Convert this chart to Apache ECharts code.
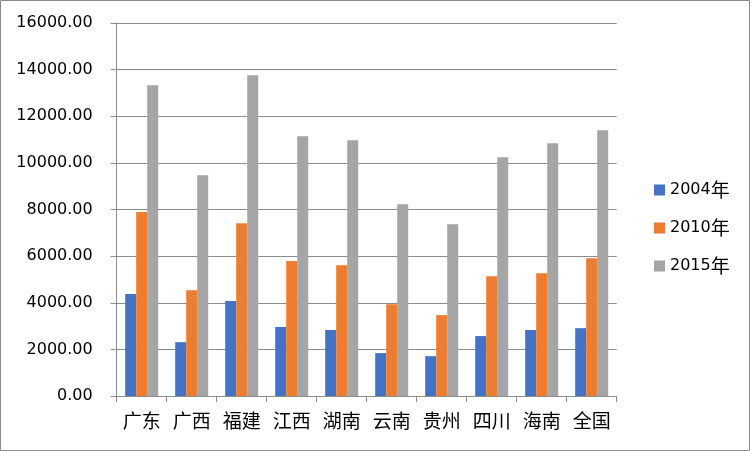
<!DOCTYPE html>
<html>
<head>
<meta charset="utf-8">
<script src="https://cdn.jsdelivr.net/npm/echarts@6/dist/echarts.min.js"></script>
<style>
html,body{margin:0;padding:0;background:#fff;}
#chart{width:751px;height:451px;}
</style>
</head>
<body>
<div id="chart"></div>
<script>
var categories = ['广东','广西','福建','江西','湖南','云南','贵州','四川','海南','全国'];
var seriesNames = ['2004年','2010年','2015年'];
var values2004 = [4370, 2310, 4070, 2960, 2830, 1840, 1710, 2570, 2830, 2910];
var values2010 = [7890, 4540, 7410, 5790, 5610, 3940, 3470, 5140, 5270, 5910];
var values2015 = [13330, 9470, 13760, 11140, 10970, 8230, 7370, 10240, 10840, 11400];
var colors = ['#4472C4', '#ED7D31', '#A5A5A5'];

var chart = echarts.init(document.getElementById('chart'), null, {renderer: 'canvas'});
var gray = '#8c8c8c';
var numFont = '"DejaVu Sans", "Noto Sans CJK SC", sans-serif';
var cjkFont = '"Noto Sans CJK SC", sans-serif';
var dataList = [values2004, values2010, values2015];

chart.setOption({
  animation: false,
  backgroundColor: '#fff',
  color: colors,
  grid: {left: 116.7, right: 134.3, top: 23, bottom: 55, containLabel: false},
  legend: {
    orient: 'vertical',
    left: 649,
    top: 175,
    itemWidth: 11,
    itemHeight: 11,
    itemGap: 18,
    itemStyle: {borderWidth: 0},
    icon: 'rect',
    formatter: function (name) {
      return '{a|' + name.replace('年', '') + '}{b|年}';
    },
    textStyle: {
      color: '#000', lineHeight: 20,
      rich: {
        a: {fontFamily: numFont, fontSize: 16, color: '#000', lineHeight: 20},
        b: {fontFamily: cjkFont, fontSize: 19, color: '#000', lineHeight: 20}
      }
    },
    data: seriesNames
  },
  xAxis: {
    type: 'category',
    data: categories,
    boundaryGap: true,
    axisLine: {show: true, lineStyle: {color: gray, width: 1}},
    axisTick: {show: true, length: 6, lineStyle: {color: gray}},
    axisLabel: {fontFamily: cjkFont, fontSize: 19, color: '#000', margin: 15, interval: 0}
  },
  yAxis: {
    type: 'value',
    min: 0,
    max: 16000,
    interval: 2000,
    axisLine: {show: true, lineStyle: {color: gray, width: 1}},
    axisTick: {show: true, length: 6, lineStyle: {color: gray}},
    splitLine: {show: true, lineStyle: {color: gray, width: 1}},
    axisLabel: {fontFamily: numFont, fontSize: 16, color: '#000', margin: 24,
      formatter: function (v) { return v.toFixed(2); }}
  },
  series: seriesNames.map(function (n, i) {
    return {
      name: n,
      type: 'bar',
      data: dataList[i],
      barWidth: 11,
      barGap: '0%',
      itemStyle: {color: colors[i]}
    };
  }),
  graphic: [{
    type: 'rect',
    shape: {x: 0.5, y: 0.5, width: 749, height: 450},
    style: {fill: null, stroke: gray, lineWidth: 1},
    silent: true,
    z: 100
  }]
});
</script>
</body>
</html>
